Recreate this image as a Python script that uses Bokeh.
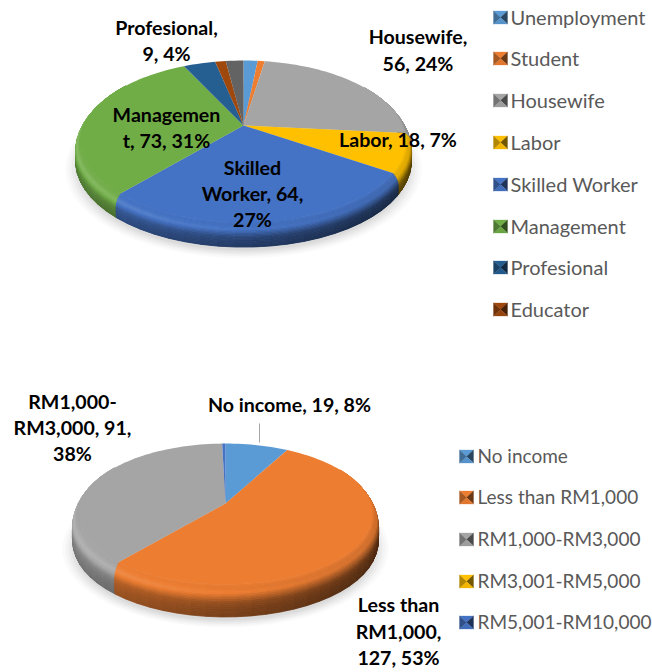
import math
from bokeh.plotting import figure
from bokeh.models import Range1d
from bokeh.core.properties import value
from bokeh.embed import file_html
from bokeh.resources import INLINE

# ---- data -------------------------------------------------------------
occupations = ["Unemployment", "Student", "Housewife", "Labor", "Skilled Worker",
               "Management", "Profesional", "Educator", "Other"]
occupation_counts = [4, 2, 56, 18, 64, 73, 9, 3, 5]
occupation_legend = occupations[:8]

incomes = ["No income", "Less than RM1,000", "RM1,000-RM3,000",
           "RM3,001-RM5,000", "RM5,001-RM10,000"]
income_counts = [19, 127, 91, 0, 1]

palette = ["#5b9bd5", "#ed7d31", "#a5a5a5", "#ffc000", "#4472c4",
           "#70ad47", "#255e91", "#9e480e", "#636363"]

occupation_labels = [
    ["Profesional,", "9, 4%"], ["Housewife,", "56, 24%"], ["Labor, 18, 7%"],
    ["Managemen", "t, 73, 31%"], ["Skilled", "Worker, 64,", "27%"],
]
income_labels = [
    ["RM1,000-", "RM3,000, 91,", "38%"], ["No income, 19, 8%"],
    ["Less than", "RM1,000,", "127, 53%"],
]

# ---- layout (reference pixels) -----------------------------------------
TOP = dict(x0=243, y0=125, R=158.8, H=77.8, k=0.197, drop=22)
BOT = dict(x0=225, y0=503, R=145.4, H=68.9, k=0.149, drop=30)
occ_label_pos = [(166, [27, 53]), (417.5, [36, 63]), (397.5, [139]),
                 (166, [114, 140]), (252, [167, 193, 219])]
inc_label_pos = [(72, [401, 427, 453]), (289, [404]), (398, [604, 631, 657])]
occ_legend_y = [17, 58, 100, 142, 184, 226, 267, 309]
inc_legend_y = [456, 497, 539, 581, 622]

p = figure(width=652, height=672, x_range=Range1d(0, 652), y_range=Range1d(672, 0),
           output_backend="svg", toolbar_location=None, min_border=0)
p.axis.visible = False
p.grid.visible = False
p.outline_line_color = None
p.background_fill_color = "#ffffff"
p.border_fill_color = "#ffffff"


def rgb(h):
    return [int(h[i:i + 2], 16) for i in (1, 3, 5)]


def shade(h, f):
    c = rgb(h)
    if f <= 1:
        c = [v * f for v in c]
    else:
        c = [v + (255 - v) * (f - 1) for v in c]
    return "#%02x%02x%02x" % tuple(int(round(v)) for v in c)


def point(g, deg, e=0.0, d=0.0):
    a = math.radians(deg)
    u, v = math.sin(a), math.cos(a)
    s = 1 + g["k"] * v
    return (g["x0"] + (g["R"] + e) * u / s,
            g["y0"] + d - (g["H"] + e * g["H"] / g["R"]) * v / s)


# rim profile: (outward expansion, drop fraction, highlight weight 0..1)
KEYS = [(0, 0.00, 0.3), (2, 0.08, 0.7), (4, 0.18, 1.0), (5.5, 0.32, 0.55),
        (6, 0.48, 0.12), (6, 0.70, 0.0), (5.8, 0.88, 0.0), (4.5, 1.00, 0.0)]
PROFILE = []
for a, b in zip(KEYS, KEYS[1:]):
    for j in range(3):
        t = j / 3
        PROFILE.append(tuple(a[m] + (b[m] - a[m]) * t for m in range(3)))
PROFILE.append(KEYS[-1])


def rim_factor(xn, h, d):
    # wall: brighter at left, dark at right, darker as it goes down
    wall = (0.88 - 0.50 * (xn + 1) / 2) * (1 - 0.20 * d)
    high = 1.20 - 0.34 * (xn + 1) / 2
    f = wall + (high - wall) * h
    # melt into the flat top face at the upper edge of the bevel
    blend = max(0.0, 1 - d / 0.22)
    return f * (1 - blend) + blend


def draw_pie(counts, g):
    total = float(sum(counts))
    # soft shadow
    for e, a in [(16, 0.02), (13, 0.025), (10, 0.03), (7, 0.03), (4, 0.035)]:
        pts = [point(g, t * 5, e, g["drop"] + 4) for t in range(72)]
        p.patch([q[0] for q in pts], [q[1] for q in pts], fill_color="#000000",
                fill_alpha=a, line_color=None)
    xs, ys, cols = [], [], []
    # rim, from the bottom band up
    for lev in range(len(PROFILE) - 2, -1, -1):
        e0, d0, h0 = PROFILE[lev]
        e1, d1, h1 = PROFILE[lev + 1]
        start = 0.0
        for cnt, col in zip(counts, palette):
            span = cnt / total * 360
            if span > 0:
                n = max(1, int(math.ceil(span / 5)))
                for i in range(n):
                    a0 = start + span * i / n
                    a1 = start + span * (i + 1) / n
                    mid = (a0 + a1) / 2
                    # the far side of the rim is hidden behind the top face
                    if math.cos(math.radians(mid)) > 0.55:
                        continue
                    q = [point(g, a0, e0, d0 * g["drop"]), point(g, a1, e0, d0 * g["drop"]),
                         point(g, a1, e1, d1 * g["drop"]), point(g, a0, e1, d1 * g["drop"])]
                    xn = math.sin(math.radians(mid))
                    f = rim_factor(xn, (h0 + h1) / 2, (d0 + d1) / 2)
                    xs.append([v[0] for v in q])
                    ys.append([v[1] for v in q])
                    cols.append(shade(col, f))
            start += span
    p.patches(xs, ys, fill_color=cols, line_color=cols, line_width=0.8)
    # flat top face
    xs, ys, cols = [], [], []
    start = 0.0
    for cnt, col in zip(counts, palette):
        span = cnt / total * 360
        if span > 0:
            n = max(2, int(math.ceil(span / 2)))
            pts = [point(g, start + span * i / n) for i in range(n + 1)]
            xs.append([g["x0"]] + [v[0] for v in pts])
            ys.append([g["y0"]] + [v[1] for v in pts])
            cols.append(col)
        start += span
    p.patches(xs, ys, fill_color=cols, line_color=None)


def draw_legend(names, ys, mx, tx, size):
    for name, y, col in zip(names, ys, palette):
        w, h = 7, 6.5
        c = (mx, y)
        corners = [(mx - w, y - h), (mx + w, y - h), (mx + w, y + h), (mx - w, y + h)]
        shades = [1.0, 0.45, 0.95, 0.7]  # top, right, bottom, left
        for i in range(4):
            a, b = corners[i], corners[(i + 1) % 4]
            s = shade(col, shades[i])
            p.patch([a[0], b[0], c[0]], [a[1], b[1], c[1]], fill_color=s, line_color=s,
                    line_width=0.3)
        p.text([tx], [y - 1], text=[name], text_font=value("Lato"), text_font_size=size,
               text_color="#595959", text_baseline="middle", text_align="left")


def draw_labels(labels, pos):
    for lines, (cx, ys) in zip(labels, pos):
        p.text([cx] * len(lines), ys, text=lines, text_font=value("Lato"),
               text_font_size="19.6px", text_font_style="bold", text_color="#000000",
               text_align="center", text_baseline="middle")


draw_pie(occupation_counts, TOP)
draw_pie(income_counts, BOT)
p.line([259, 259], [423, 442], line_color="#a6a6a6", line_width=1)
draw_labels(occupation_labels, occ_label_pos)
draw_labels(income_labels, inc_label_pos)
draw_legend(occupation_legend, occ_legend_y, 500, 510, "20px")
draw_legend(incomes, inc_legend_y, 466, 477, "19px")

open("out.html", "w").write(file_html(p, INLINE))
